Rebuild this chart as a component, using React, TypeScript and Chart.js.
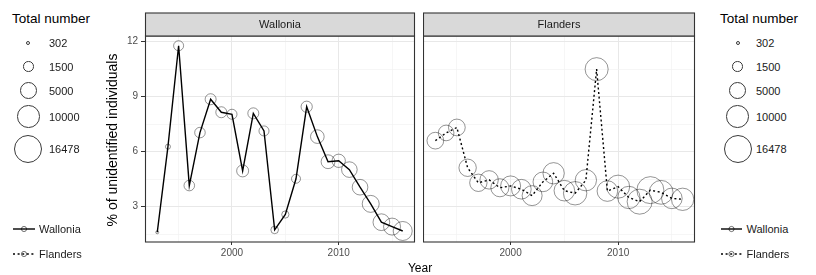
import React, { useEffect, useRef } from "react";
import { Chart, registerables } from "chart.js";

Chart.register(...registerables);

// ---------- data ----------
const years = [1993, 1994, 1995, 1996, 1997, 1998, 1999, 2000, 2001, 2002, 2003, 2004, 2005, 2006, 2007, 2008, 2009, 2010, 2011, 2012, 2013, 2014, 2015, 2016];
const walloniaPct = [1.6, 6.27, 11.78, 4.15, 7.04, 8.86, 8.15, 8.04, 4.95, 8.09, 7.13, 1.73, 2.57, 4.52, 8.45, 6.82, 5.45, 5.5, 5.02, 4.06, 3.15, 2.15, 1.91, 1.67];
const walloniaTotal = [302, 420, 1680, 1920, 1900, 2100, 2100, 1700, 2580, 2100, 1700, 900, 800, 1300, 2200, 3470, 3600, 3300, 4770, 4800, 5800, 5600, 5800, 7500];
const flandersPct = [6.6, 7.02, 7.32, 5.12, 4.3, 4.46, 4.03, 4.13, 3.95, 3.6, 4.35, 4.82, 3.87, 3.73, 4.44, 10.5, 3.85, 4.09, 3.5, 3.27, 3.9, 3.78, 3.45, 3.4];
const flandersTotal = [5600, 4800, 5600, 6100, 6100, 6970, 6700, 8400, 8100, 8400, 8100, 9700, 9000, 12000, 9700, 11600, 9000, 11600, 10800, 13900, 16478, 12500, 9000, 10800];
const yTickValues = [1.5, 3, 4.5, 6, 7.5, 9, 10.5, 12];
const yLabelledTicks = [3, 6, 9, 12];
const xTickValues = [1995, 2000, 2005, 2010, 2015];
const xLabelledTicks = [2000, 2010];
const legendTotals = [302, 1500, 5000, 10000, 16478];
const regionNames = ["Wallonia", "Flanders"];

// ---------- styling / layout ----------
const FONT = "'Liberation Sans', Arial, Helvetica, sans-serif";
const SIZE_MIN = 302;
const SIZE_MAX = 16478;
const R_MIN = 2;
const R_MAX = 14;
const outerRadius = (n: number) =>
  R_MIN + (R_MAX - R_MIN) * Math.sqrt(Math.max(0, n - SIZE_MIN) / (SIZE_MAX - SIZE_MIN));

const X_MIN = 1991.85;
const X_MAX = 2017.15;
const Y_MIN = 1.07;
const Y_MAX = 12.31;

const stripPlugin = {
  id: "strip",
  afterDraw(chart: any, _args: any, opts: any) {
    const { ctx, chartArea } = chart;
    const { left, right, top, bottom } = chartArea;
    const sh = 23;
    ctx.save();
    ctx.strokeStyle = "#333333";
    ctx.lineWidth = 1.1;
    ctx.strokeRect(left + 0.5, top, right - left - 1, bottom - top);
    ctx.fillStyle = "#d9d9d9";
    ctx.fillRect(left + 0.5, top - sh, right - left - 1, sh);
    ctx.strokeRect(left + 0.5, top - sh, right - left - 1, sh);
    ctx.fillStyle = "#1a1a1a";
    ctx.font = `11px ${FONT}`;
    ctx.textAlign = "center";
    ctx.textBaseline = "middle";
    ctx.fillText(opts.label, (left + right) / 2, top - sh / 2 + 0.5);
    ctx.restore();
  },
};

function makeChart(
  canvas: HTMLCanvasElement,
  pct: number[],
  totals: number[],
  dashed: boolean,
  label: string,
  showY: boolean,
  yWidth: number
) {
  return new Chart(canvas, {
    type: "line",
    data: {
      datasets: [
        {
          data: years.map((y, i) => ({ x: y, y: pct[i] })),
          borderColor: "#000000",
          borderWidth: 1.4,
          borderDash: dashed ? [2, 2.6] : [],
          pointRadius: totals.map((n) => outerRadius(n) - 0.5),
          pointHoverRadius: totals.map((n) => outerRadius(n) - 0.5),
          pointBorderColor: "rgba(0,0,0,0.42)",
          pointBackgroundColor: "rgba(0,0,0,0)",
          pointBorderWidth: 1,
          tension: 0,
          fill: false,
        } as any,
      ],
    },
    options: {
      animation: false,
      responsive: false,
      maintainAspectRatio: false,
      events: [],
      layout: { padding: { top: 36, right: 1, left: 0, bottom: 0 }, autoPadding: false } as any,
      plugins: {
        legend: { display: false },
        tooltip: { enabled: false },
        strip: { label },
      } as any,
      scales: {
        x: {
          type: "linear",
          min: X_MIN,
          max: X_MAX,
          afterBuildTicks: (s: any) => {
            s.ticks = xTickValues.map((v) => ({ value: v }));
          },
          afterFit: (s: any) => {
            s.height = 33;
          },
          ticks: {
            autoSkip: false,
            maxRotation: 0,
            padding: 2,
            color: "#4d4d4d",
            font: { size: 10, family: FONT },
            callback: (v: any) => (xLabelledTicks.includes(Number(v)) ? String(v) : ""),
          },
          grid: {
            color: (c: any) => (xLabelledTicks.includes(c.tick?.value) ? "#e8e8e8" : "#f2f2f2"),
            lineWidth: (c: any) => (xLabelledTicks.includes(c.tick?.value) ? 1 : 0.7),
            tickLength: 3,
            tickColor: (c: any) => (xLabelledTicks.includes(c.tick?.value) ? "#333333" : "rgba(0,0,0,0)"),
          },
          border: { display: false },
        },
        y: {
          type: "linear",
          min: Y_MIN,
          max: Y_MAX,
          afterBuildTicks: (s: any) => {
            s.ticks = yTickValues.map((v) => ({ value: v }));
          },
          afterFit: (s: any) => {
            s.width = yWidth;
          },
          ticks: {
            display: showY,
            padding: 3,
            color: "#4d4d4d",
            font: { size: 10, family: FONT },
            callback: (v: any) => (yLabelledTicks.includes(Number(v)) ? String(v) : ""),
          },
          grid: {
            color: (c: any) => (yLabelledTicks.includes(c.tick?.value) ? "#e8e8e8" : "#f2f2f2"),
            lineWidth: (c: any) => (yLabelledTicks.includes(c.tick?.value) ? 1 : 0.7),
            drawTicks: showY,
            tickLength: 4,
            tickColor: (c: any) =>
              showY && yLabelledTicks.includes(c.tick?.value) ? "#333333" : "rgba(0,0,0,0)",
          },
          border: { display: false },
        },
      } as any,
    },
    plugins: [stripPlugin as any],
  });
}

const legendRowY = [42.5, 66.7, 90.6, 116.7, 148.7];
const lineRowY = [229, 254];

function SizeLegend({ titleX, circleX, labelX }: { titleX: number; circleX: number; labelX: number }) {
  return (
    <>
      <div style={{ position: "absolute", left: titleX, top: 10, fontSize: 13.5, lineHeight: "18px", color: "#000", whiteSpace: "nowrap" }}>
        Total number
      </div>
      {legendTotals.map((n, i) => {
        const r = outerRadius(n);
        return (
          <React.Fragment key={n}>
            <div
              style={{
                position: "absolute",
                left: circleX - r,
                top: legendRowY[i] - r,
                width: 2 * r,
                height: 2 * r,
                borderRadius: "50%",
                border: "1px solid #3a3a3a",
                boxSizing: "border-box",
              }}
            />
            <div style={{ position: "absolute", left: labelX, top: legendRowY[i] - 7, fontSize: 11, lineHeight: "14px", color: "#1a1a1a", whiteSpace: "nowrap" }}>
              {n}
            </div>
          </React.Fragment>
        );
      })}
    </>
  );
}

function LineLegend({ keyX, keyW, labelX }: { keyX: number; keyW: number; labelX: number }) {
  return (
    <>
      {regionNames.map((name, i) => (
        <React.Fragment key={name}>
          <svg
            width={keyW}
            height={10}
            style={{ position: "absolute", left: keyX, top: lineRowY[i] - 5, overflow: "visible" }}
          >
            <line
              x1={0}
              y1={5}
              x2={keyW}
              y2={5}
              stroke="#000"
              strokeWidth={1.4}
              strokeDasharray={i === 1 ? "2 2.6" : undefined}
            />
            <circle cx={keyW / 2} cy={5} r={2.6} fill="none" stroke="rgba(0,0,0,0.55)" strokeWidth={1} />
          </svg>
          <div style={{ position: "absolute", left: labelX, top: lineRowY[i] - 7, fontSize: 11, lineHeight: "14px", color: "#1a1a1a", whiteSpace: "nowrap" }}>
            {name}
          </div>
        </React.Fragment>
      ))}
    </>
  );
}

export default function App() {
  const ref1 = useRef<HTMLCanvasElement | null>(null);
  const ref2 = useRef<HTMLCanvasElement | null>(null);

  useEffect(() => {
    const c1 = makeChart(ref1.current!, walloniaPct, walloniaTotal, false, regionNames[0], true, 50);
    const c2 = makeChart(ref2.current!, flandersPct, flandersTotal, true, regionNames[1], false, 0);
    return () => {
      c1.destroy();
      c2.destroy();
    };
  }, []);

  return (
    <div
      style={{
        position: "absolute",
        left: 0,
        top: 0,
        width: 816,
        height: 275,
        background: "#fff",
        fontFamily: FONT,
        overflow: "hidden",
      }}
    >
      <canvas ref={ref1} width={321} height={275} style={{ position: "absolute", left: 95, top: 0, width: 321, height: 275 }} />
      <canvas ref={ref2} width={273} height={275} style={{ position: "absolute", left: 423, top: 0, width: 273, height: 275 }} />
      <div
        style={{
          position: "absolute",
          left: 112,
          top: 140,
          transform: "translate(-50%, -50%) rotate(-90deg)",
          fontSize: 14,
          lineHeight: "16px",
          whiteSpace: "nowrap",
          color: "#000",
        }}
      >
        % of unidentified individuals
      </div>
      <div
        style={{
          position: "absolute",
          left: 420,
          top: 268,
          transform: "translate(-50%, -50%)",
          fontSize: 12,
          lineHeight: "14px",
          whiteSpace: "nowrap",
          color: "#000",
        }}
      >
        Year
      </div>
      <SizeLegend titleX={12} circleX={28.3} labelX={49} />
      <SizeLegend titleX={720} circleX={737.7} labelX={756} />
      <LineLegend keyX={13} keyW={22} labelX={39} />
      <LineLegend keyX={721} keyW={21} labelX={746.5} />
    </div>
  );
}
